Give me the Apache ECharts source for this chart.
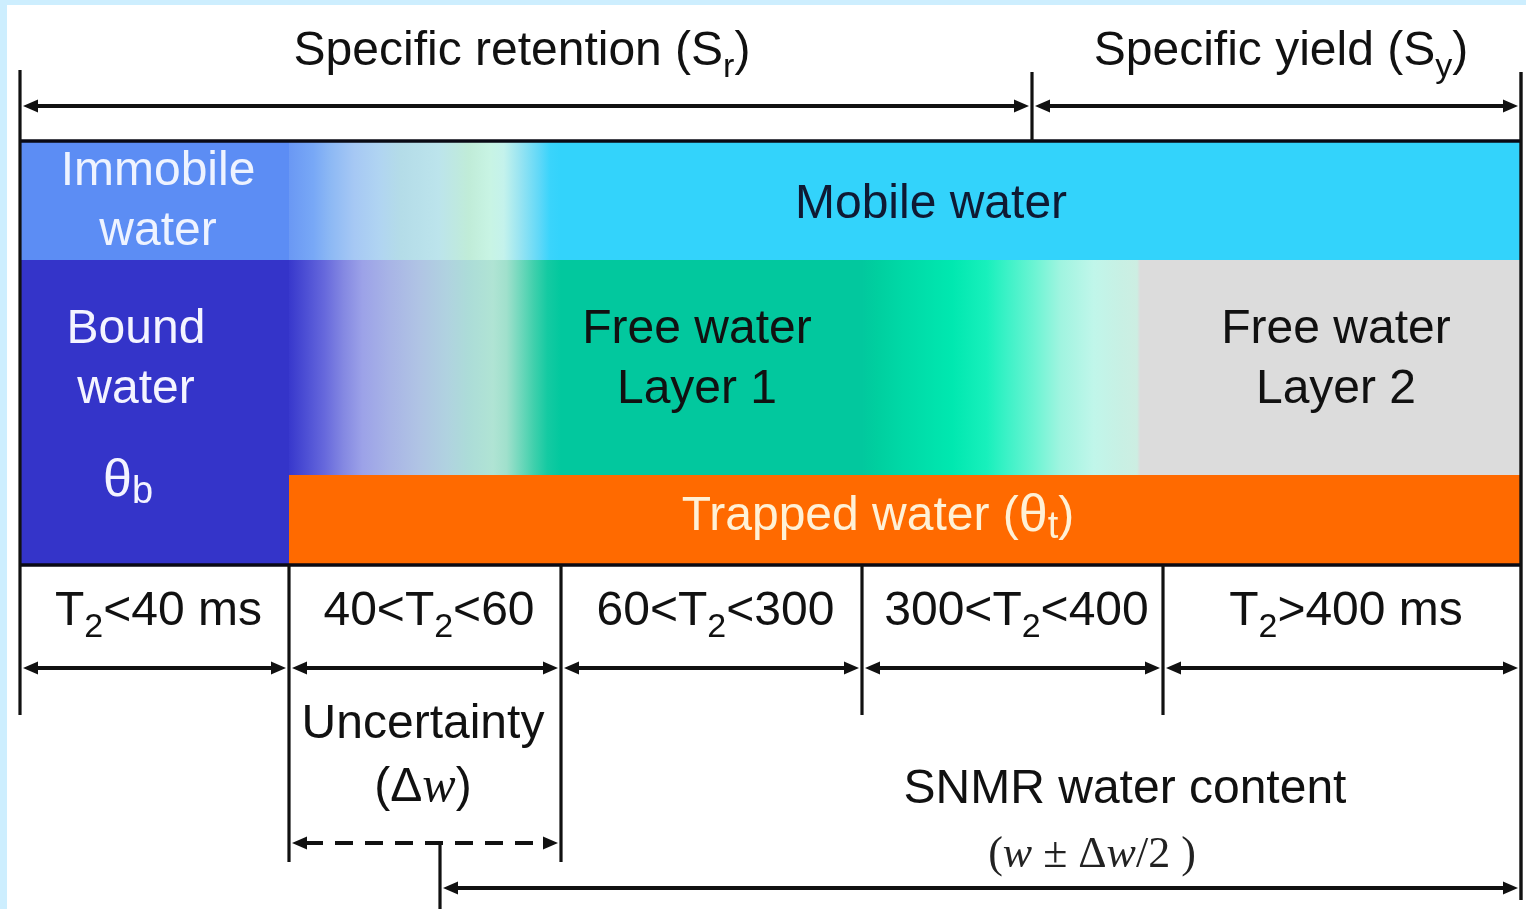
<!DOCTYPE html>
<html>
<head>
<meta charset="utf-8">
<style>
html,body{margin:0;padding:0;background:#cdeefe;}
#c{width:1526px;height:909px;}
</style>
<script src="https://cdn.jsdelivr.net/npm/echarts@6/dist/echarts.min.js"></script>
</head>
<body>
<div id="c"></div>
<script>
// ================= DATA (schematic units along the diagram axes) =================
// T2 relaxation classes and their boundaries on the schematic x axis
const classLabels = [
  '{n|T}{s|2}{n|<40 ms}',
  '{n|40<T}{s|2}{n|<60}',
  '{n|60<T}{s|2}{n|<300}',
  '{n|300<T}{s|2}{n|<400}',
  '{n|T}{s|2}{n|>400 ms}'
];
const classEdges = [20, 289, 561, 862, 1163, 1521];

// Specific retention / specific yield split
const capacityLabels = ['{n|Specific retention (S}{s|r}{n|)}', '{n|Specific yield (S}{s|y}{n|)}'];
const capacityEdges = [20, 1032, 1521];

// water bands (schematic y axis, top to bottom)
const bandEdges = [141, 260, 475, 565];

// zones: [firstClass, lastClassExclusive, firstBand, lastBandExclusive]
const zoneNames  = ['Immobile', 'MobileTransition', 'Mobile', 'Bound', 'FreeTransition1', 'Layer1', 'FreeTransition2', 'Layer2', 'Trapped'];
const zoneClassFrom = [0, 1, 2, 0, 1, 2, 3, 4, 1];
const zoneClassTo   = [1, 2, 5, 1, 2, 3, 4, 5, 5];
const zoneBandFrom  = [0, 0, 0, 1, 1, 1, 1, 1, 2];
const zoneBandTo    = [1, 1, 1, 3, 2, 2, 2, 2, 3];

// zone labels
const zoneLabelText = [
  '{n|Immobile}\n{n|water}',
  '{n|Mobile water}',
  '{n|Bound}\n{n|water}',
  '{t|θ}{b|b}',
  '{n|Free water}\n{n|Layer 1}',
  '{n|Free water}\n{n|Layer 2}',
  '{n|Trapped water (}{t|θ}{b|t}{n|)}'
];
const uncertaintyLabel = '{n|Uncertainty}\n{n|(Δ}{i|w}{n|)}';
const snmrLabel = '{n|SNMR water content}';
const snmrFormula = '{f|(}{fi|w}{f| ± Δ}{fi|w}{f|/2 )}';
const snmrStart = 440;

// ================= STYLE =================
const FONT = '"Liberation Sans", Arial, Helvetica, sans-serif';
const SERIF = '"Liberation Serif", "Times New Roman", serif';
const INK = '#111111';

function grad(stops) {
  return new echarts.graphic.LinearGradient(0, 0, 1, 0, stops.map(s => ({offset: s[0], color: s[1]})));
}
const zoneFills = [
  '#5c8df4',
  grad([[0,'#6a98f4'],[0.09,'#78a8f6'],[0.15,'#8cb8f4'],[0.24,'#a6c8f4'],[0.33,'#b0d4f2'],[0.41,'#b4dce8'],
        [0.55,'#bce4ec'],[0.66,'#c0ecd8'],[0.74,'#c8f4e4'],[0.79,'#c4f2ec'],[0.85,'#98e4f2'],[0.92,'#60d8f8'],
        [0.96,'#3ad4fb'],[1,'#33d3fb']]),
  '#33d3fb',
  '#3434c9',
  grad([[0,'#3838cc'],[0.06,'#4c4ed4'],[0.13,'#6668dc'],[0.2,'#8488e2'],[0.27,'#9ca2e8'],[0.37,'#a8b4e6'],
        [0.48,'#b0c4e4'],[0.58,'#b0d2e0'],[0.66,'#acdcd8'],[0.75,'#b0e4d4'],[0.8,'#a0e0cc'],[0.85,'#70d8bc'],
        [0.9,'#40d0ac'],[0.95,'#14caa2'],[1,'#02c89e']]),
  '#02c89e',
  grad([[0,'#02c89e'],[0.05,'#00cf9f'],[0.13,'#00d8a6'],[0.3,'#00e8b0'],[0.415,'#18f0bc'],[0.49,'#40f2c8'],
        [0.58,'#70f4d4'],[0.66,'#a0f4e0'],[0.77,'#c0f6ea'],[0.86,'#c8f0e4'],[0.914,'#cdeee2'],[0.924,'#dcdcdc'],[1,'#dcdcdc']]),
  '#dcdcdc',
  '#ff6a00'
];

// label anchors (layout only)
const zoneLabelPos = [[158,202],[931,205],[136,360],[128,482],[697,360],[1336,360],[878,517]];
const zoneLabelColor = ['#eef3ff','#0f1a33','#f4f4ff','#f4f4ff','#111111','#111111','#fff1d6'];

function richSet(color, size, lh) {
  return {
    n: {fontFamily: FONT, fontSize: size, color: color, lineHeight: lh},
    s: {fontFamily: FONT, fontSize: 34, color: color, lineHeight: 36, verticalAlign: 'bottom'},
    t: {fontFamily: FONT, fontSize: 52, color: color, lineHeight: lh},
    b: {fontFamily: FONT, fontSize: 38, color: color, lineHeight: 42, verticalAlign: 'bottom'},
    i: {fontFamily: SERIF, fontStyle: 'italic', fontSize: size + 2, color: color, lineHeight: lh},
    f: {fontFamily: SERIF, fontSize: 44, color: color, lineHeight: lh},
    fi: {fontFamily: SERIF, fontStyle: 'italic', fontSize: 44, color: color, lineHeight: lh}
  };
}

// ================= CHART =================
const chart = echarts.init(document.getElementById('c'), null, {renderer: 'canvas'});

function textEl(api, x, y, text, color, size, lh) {
  const p = api.coord([x, y]);
  return {
    type: 'text', x: p[0], y: p[1],
    style: {text: text, rich: richSet(color, size, lh), align: 'center', verticalAlign: 'middle', fill: color}
  };
}

function arrowEl(api, x0, x1, y, dashed, heads) {
  const a = api.coord([x0, y]), b = api.coord([x1, y]);
  const L = 15, H = 6.5;
  const ax = a[0] + 3, bx = b[0] - 3;
  const children = [{
    type: 'line',
    shape: {x1: ax + (heads[0] ? L - 2 : 0), y1: a[1], x2: bx - (heads[1] ? L - 2 : 0), y2: b[1]},
    style: {stroke: INK, lineWidth: 3.8, lineDash: dashed ? [18, 12] : null}
  }];
  if (heads[0]) children.push({type: 'polygon', shape: {points: [[ax, a[1]], [ax + L, a[1] - H], [ax + L, a[1] + H]]}, style: {fill: INK}});
  if (heads[1]) children.push({type: 'polygon', shape: {points: [[bx, b[1]], [bx - L, b[1] - H], [bx - L, b[1] + H]]}, style: {fill: INK}});
  return {type: 'group', children: children};
}

function vline(api, x, y0, y1, w) {
  const a = api.coord([x, y0]), b = api.coord([x, y1]);
  return {type: 'line', shape: {x1: a[0], y1: a[1], x2: b[0], y2: b[1]}, style: {stroke: INK, lineWidth: w || 3.2}};
}

function hline(api, x0, x1, y, w) {
  const a = api.coord([x0, y]), b = api.coord([x1, y]);
  return {type: 'line', shape: {x1: a[0], y1: a[1], x2: b[0], y2: b[1]}, style: {stroke: '#0a0a14', lineWidth: w}};
}

const option = {
  backgroundColor: '#cdeefe',
  animation: false,
  grid: {left: 0, right: 0, top: 0, bottom: 0},
  xAxis: {type: 'value', min: 0, max: 1526, show: false},
  yAxis: {type: 'value', min: 0, max: 909, inverse: true, show: false},
  series: [
    { // white panel
      type: 'custom', silent: true, data: [[0]],
      renderItem: (params, api) => {
        const a = api.coord([7, 5]), b = api.coord([1526, 909]);
        return {type: 'rect', shape: {x: a[0], y: a[1], width: b[0] - a[0], height: b[1] - a[1]}, style: {fill: '#ffffff'}};
      }
    },
    { // water zones
      type: 'custom', silent: true,
      data: zoneNames.map((n, i) => [classEdges[zoneClassFrom[i]], classEdges[zoneClassTo[i]], bandEdges[zoneBandFrom[i]], bandEdges[zoneBandTo[i]]]),
      renderItem: (params, api) => {
        const a = api.coord([api.value(0), api.value(2)]), b = api.coord([api.value(1), api.value(3)]);
        return {type: 'rect', shape: {x: a[0], y: a[1], width: b[0] - a[0], height: b[1] - a[1]}, style: {fill: zoneFills[params.dataIndex]}};
      }
    },
    { // frame and separator lines
      type: 'custom', silent: true, data: [[0]],
      renderItem: (params, api) => {
        const ch = [];
        ch.push(hline(api, classEdges[0], classEdges[5] + 1, bandEdges[0], 3.5));
        ch.push(hline(api, classEdges[0], classEdges[5] + 1, bandEdges[3], 3.5));
        ch.push(vline(api, capacityEdges[0], 70, 715));
        ch.push(vline(api, capacityEdges[1], 72, bandEdges[0]));
        ch.push(vline(api, capacityEdges[2], 72, 900, 3.4));
        ch.push(vline(api, classEdges[1], bandEdges[3], 862));
        ch.push(vline(api, classEdges[2], bandEdges[3], 862));
        ch.push(vline(api, classEdges[3], bandEdges[3], 715));
        ch.push(vline(api, classEdges[4], bandEdges[3], 715));
        ch.push(vline(api, snmrStart, 843, 909));
        return {type: 'group', children: ch};
      }
    },
    { // arrows
      type: 'custom', silent: true, data: [[0]],
      renderItem: (params, api) => {
        const ch = [];
        for (let i = 0; i < capacityEdges.length - 1; i++) ch.push(arrowEl(api, capacityEdges[i], capacityEdges[i + 1], 106, false, [true, true]));
        for (let i = 0; i < classEdges.length - 1; i++) ch.push(arrowEl(api, classEdges[i], classEdges[i + 1], 668, false, [true, true]));
        ch.push(arrowEl(api, classEdges[1], classEdges[2], 843, true, [true, true]));
        ch.push(arrowEl(api, snmrStart, classEdges[5], 888, false, [true, true]));
        return {type: 'group', children: ch};
      }
    },
    { // texts
      type: 'custom', silent: true, data: [[0]],
      renderItem: (params, api) => {
        const ch = [];
        ch.push(textEl(api, 522, 52, capacityLabels[0], INK, 48, 66));
        ch.push(textEl(api, 1281, 52, capacityLabels[1], INK, 48, 66));
        zoneLabelText.forEach((t, i) => ch.push(textEl(api, zoneLabelPos[i][0], zoneLabelPos[i][1], t, zoneLabelColor[i], 48, 60)));
        classLabels.forEach((t, i) => ch.push(textEl(api, (classEdges[i] + classEdges[i + 1]) / 2 + 4, 612, t, INK, 48, 66)));
        ch.push(textEl(api, 423, 756, uncertaintyLabel, INK, 48, 63));
        ch.push(textEl(api, 1125, 790, snmrLabel, INK, 48, 60));
        ch.push(textEl(api, 1092, 855, snmrFormula, '#222222', 44, 50));
        return {type: 'group', children: ch};
      }
    }
  ]
};
chart.setOption(option);
</script>
</body>
</html>
